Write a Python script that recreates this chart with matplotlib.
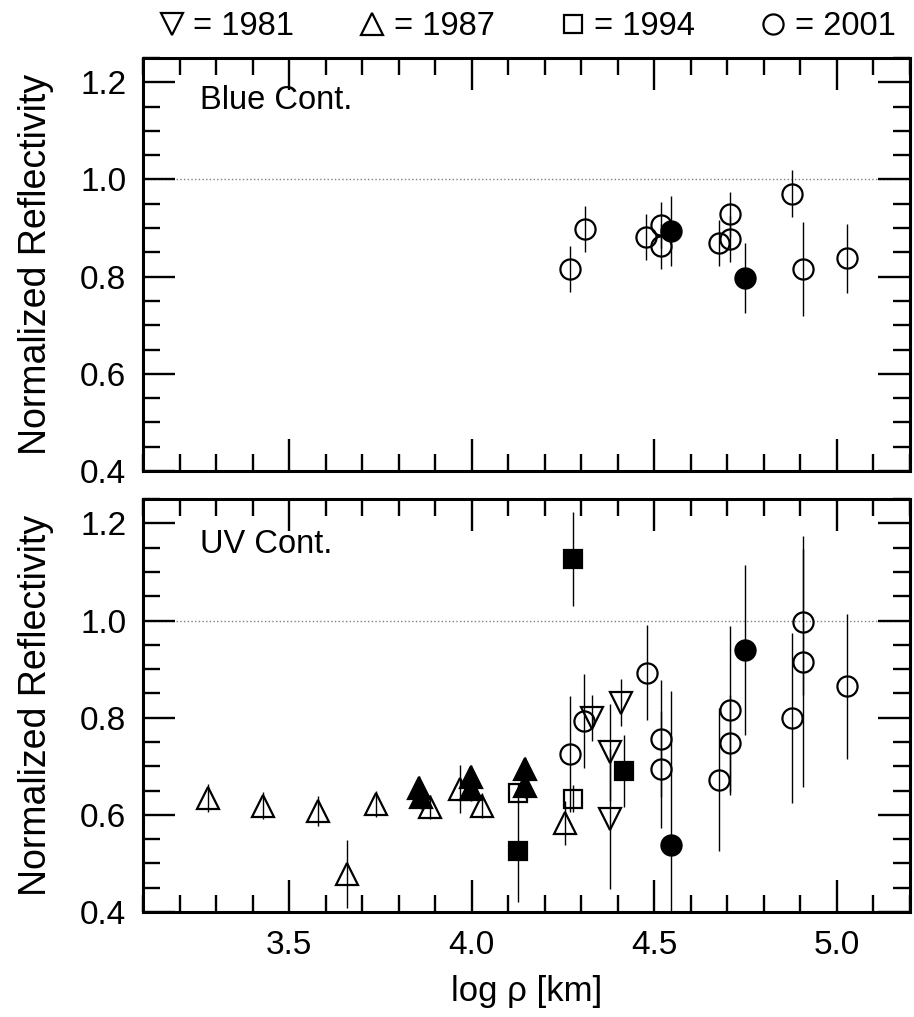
import matplotlib
matplotlib.use("Agg")
import matplotlib.pyplot as plt
from matplotlib.ticker import MultipleLocator, FormatStrFormatter
from matplotlib.lines import Line2D

plt.rcParams['font.family'] = ['Liberation Sans', 'DejaVu Sans']
plt.rcParams['xtick.direction'] = 'in'
plt.rcParams['ytick.direction'] = 'in'

# ---- Blue continuum (top panel), 2001 only ----
blue_open_x = [4.270, 4.309, 4.477, 4.517, 4.517, 4.678, 4.707, 4.707, 4.877, 4.908, 5.028]
blue_open_y = [0.816, 0.898, 0.881, 0.906, 0.862, 0.869, 0.928, 0.877, 0.971, 0.816, 0.838]
blue_open_err = [0.047, 0.047, 0.047, 0.047, 0.047, 0.047, 0.047, 0.047, 0.048, 0.097, 0.071]
blue_fill_x = [4.547, 4.748]
blue_fill_y = [0.893, 0.797]
blue_fill_err = [0.072, 0.072]

# ---- UV continuum (bottom panel) ----
# 1981 (down triangles, open)
uv81_x = [4.329, 4.379, 4.379, 4.408]
uv81_y = [0.800, 0.729, 0.592, 0.831]
uv81_err = [0.047, 0.100, 0.144, 0.048]
# 1987 (up triangles)
uv87_open_x = [3.279, 3.429, 3.578, 3.658, 3.738, 3.887, 3.967, 4.028, 4.256]
uv87_open_y = [0.634, 0.619, 0.608, 0.479, 0.623, 0.616, 0.653, 0.619, 0.583]
uv87_open_err = [0.029, 0.028, 0.031, 0.070, 0.027, 0.025, 0.049, 0.025, 0.046]
uv87_fill_x = [3.855, 3.862, 3.999, 3.999, 4.147, 4.147]
uv87_fill_y = [0.655, 0.637, 0.677, 0.653, 0.694, 0.660]
uv87_fill_err = [0.025, 0.025, 0.025, 0.025, 0.025, 0.025]
# 1994 (squares)
uv94_open_x = [4.128, 4.277]
uv94_open_y = [0.644, 0.633]
uv94_open_err = [0.020, 0.028]
uv94_fill_x = [4.128, 4.277, 4.417]
uv94_fill_y = [0.525, 1.127, 0.691]
uv94_fill_err = [0.105, 0.097, 0.074]
# 2001 (circles)
uv01_open_x = [4.268, 4.308, 4.479, 4.518, 4.518, 4.678, 4.707, 4.707, 4.877, 4.908, 4.908, 5.028]
uv01_open_y = [0.725, 0.793, 0.893, 0.757, 0.694, 0.672, 0.815, 0.747, 0.800, 0.997, 0.915, 0.865]
uv01_open_err = [0.120, 0.097, 0.097, 0.120, 0.120, 0.147, 0.174, 0.100, 0.175, 0.150, 0.258, 0.149]
uv01_fill_x = [4.545, 4.748]
uv01_fill_y = [0.538, 0.939]
uv01_fill_err = [0.317, 0.175]

legend_years = ["= 1981", "= 1987", "= 1994", "= 2001"]
legend_markers = ["v", "^", "s", "o"]
marker_size = {"v": 16, "^": 16, "s": 13.5, "o": 14.5}

fig = plt.figure(figsize=(9.14, 10.17), dpi=100)
ax1 = fig.add_axes([0.1565, 0.5369, 0.8391, 0.4061])
ax2 = fig.add_axes([0.1565, 0.1032, 0.8391, 0.4061])


def draw(ax, x, y, err, marker, filled):
    ax.errorbar(x, y, yerr=err, fmt=marker, ms=marker_size[marker],
                mfc="black" if filled else "none", mec="black", mew=1.6,
                ecolor="black", elinewidth=1.0, capsize=0, zorder=3)


draw(ax1, blue_open_x, blue_open_y, blue_open_err, "o", False)
draw(ax1, blue_fill_x, blue_fill_y, blue_fill_err, "o", True)

draw(ax2, uv81_x, uv81_y, uv81_err, "v", False)
draw(ax2, uv87_open_x, uv87_open_y, uv87_open_err, "^", False)
draw(ax2, uv87_fill_x, uv87_fill_y, uv87_fill_err, "^", True)
draw(ax2, uv94_open_x, uv94_open_y, uv94_open_err, "s", False)
draw(ax2, uv94_fill_x, uv94_fill_y, uv94_fill_err, "s", True)
draw(ax2, uv01_open_x, uv01_open_y, uv01_open_err, "o", False)
draw(ax2, uv01_fill_x, uv01_fill_y, uv01_fill_err, "o", True)

for ax in (ax1, ax2):
    ax.set_xlim(3.1, 5.2)
    ax.set_ylim(0.4, 1.25)
    ax.axhline(1.0, color="gray", ls=":", lw=1.0, zorder=1)
    ax.xaxis.set_major_locator(MultipleLocator(0.5))
    ax.xaxis.set_minor_locator(MultipleLocator(0.1))
    ax.yaxis.set_major_locator(MultipleLocator(0.2))
    ax.yaxis.set_minor_locator(MultipleLocator(0.05))
    ax.tick_params(which="both", direction="in", top=True, right=True,
                   width=1.7, labelsize=24)
    ax.tick_params(which="major", length=23)
    ax.tick_params(which="minor", length=12)
    ax.tick_params(axis="y", which="major", pad=12)
    ax.tick_params(axis="x", which="major", pad=13)
    for s in ax.spines.values():
        s.set_linewidth(2.2)
    ax.yaxis.set_major_formatter(FormatStrFormatter("%.1f"))
    ax.set_ylabel("Normalized Reflectivity", fontsize=27, labelpad=19)

ax1.tick_params(labelbottom=False)
ax2.xaxis.set_major_formatter(FormatStrFormatter("%.1f"))
ax2.set_xlabel("log \u03c1 [km]", fontsize=25, labelpad=10)

ax1.text(0.074, 0.898, "Blue Cont.", transform=ax1.transAxes, fontsize=23.5,
         va="center", ha="left")
ax2.text(0.074, 0.889, "UV Cont.", transform=ax2.transAxes, fontsize=23.5,
         va="center", ha="left")

handles = [Line2D([], [], ls="none", marker=m, ms=marker_size[m], mfc="none",
                  mec="black", mew=1.6) for m in legend_markers]
fig.legend(handles, legend_years, loc="upper center", bbox_to_anchor=(0.575, 1.018),
           ncol=4, frameon=False, fontsize=23.5, handletextpad=0.15,
           columnspacing=1.9, handlelength=1.0)

fig.savefig("out.png", dpi=100)
